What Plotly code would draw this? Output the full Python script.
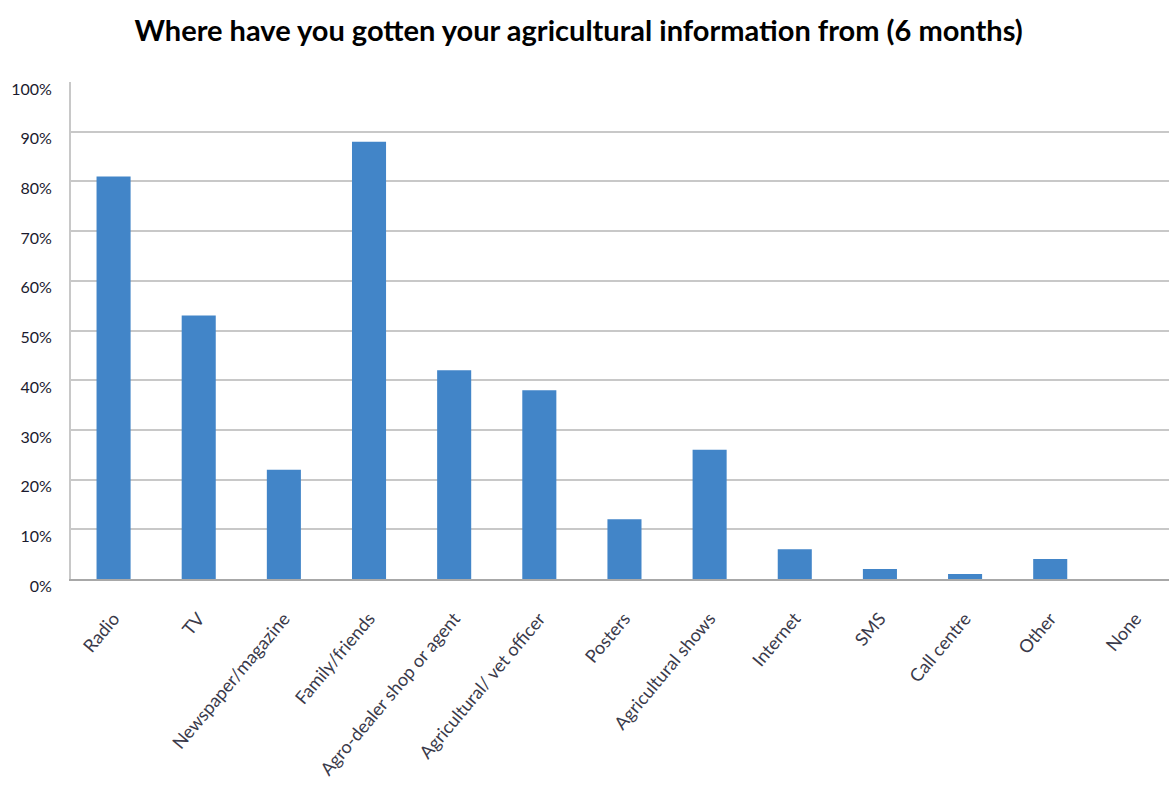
import plotly.graph_objects as go

categories = ["Radio", "TV", "Newspaper/magazine", "Family/friends", "Agro-dealer shop or agent",
              "Agricultural/ vet officer", "Posters", "Agricultural shows", "Internet", "SMS",
              "Call centre", "Other", "None"]
values = [81, 53, 22, 88, 42, 38, 12, 26, 6, 2, 1, 4, 0]
y_ticks = [0, 10, 20, 30, 40, 50, 60, 70, 80, 90, 100]
y_tick_labels = [f"{v}%" for v in y_ticks]
title = "Where have you gotten your agricultural information from (6 months)"

fig = go.Figure(go.Bar(
    x=categories, y=values, width=0.4,
    marker=dict(color="#4285c8", line=dict(width=0)),
))

fig.update_layout(
    width=1169, height=801,
    margin=dict(l=71, r=0, t=82, b=222),
    paper_bgcolor="white", plot_bgcolor="white",
    title=dict(text=f"<b>{title}</b>", x=0.495, xanchor="center", y=0.962, yanchor="middle",
               font=dict(family="Lato", size=29, color="#000000")),
    showlegend=False,
    font=dict(family="Lato"),
)
fig.update_yaxes(
    range=[0, 100], tickvals=y_ticks, ticktext=y_tick_labels,
    showgrid=True, gridcolor="#c8c8c8", gridwidth=2,
    showline=True, linecolor="#c8c8c8", linewidth=2,
    ticks="", ticklabelstandoff=14, ticklabelshift=7,
    tickfont=dict(family="Lato", size=16, color="#1a1a2e"),
    zeroline=False,
)
fig.update_xaxes(
    range=[-0.5, 12.395], tickangle=-50,
    showline=True, linecolor="#a8a8a8", linewidth=2,
    ticks="", showgrid=False, ticklabelstandoff=20,
    tickfont=dict(family="Lato", size=18, color="#3a3a4a"),
)

fig.write_html("out.html")
